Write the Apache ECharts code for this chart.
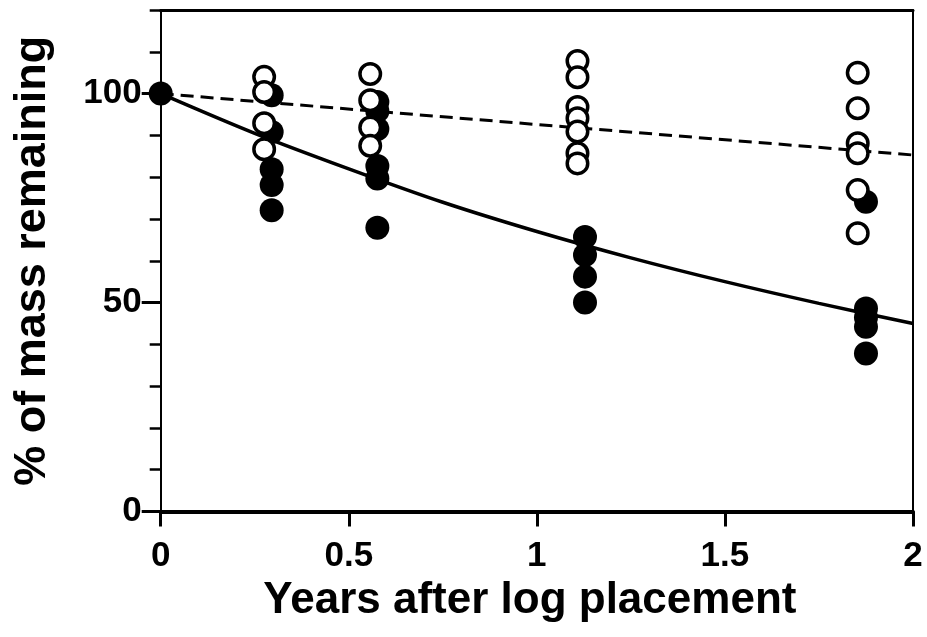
<!DOCTYPE html>
<html><head><meta charset="utf-8">
<script src="https://cdn.jsdelivr.net/npm/echarts@6/dist/echarts.min.js"></script>
<style>html,body{margin:0;padding:0;background:#fff}#c{width:927px;height:637px}</style>
</head><body><div id="c"></div>
<script>
// Tick labels
const xTickValues = [0, 0.5, 1, 1.5, 2];
const yLabelValues = [0, 50, 100];
const yMajorTicks = [0, 50, 100];

// Open circles (years, % mass remaining)
const openPoints = [
  [0.275, 104.0], [0.275, 100.4], [0.275, 92.9], [0.275, 86.7],
  [0.557, 104.7], [0.557, 98.4], [0.557, 91.9], [0.557, 87.5],
  [1.108, 107.8], [1.108, 103.9], [1.108, 96.8], [1.108, 94.1], [1.108, 90.9], [1.108, 85.7], [1.108, 83.3],
  [1.853, 105.0], [1.853, 96.5], [1.853, 88.1], [1.853, 85.7], [1.853, 76.9], [1.853, 66.6]
];

// Filled circles
const filledPoints = [
  [0, 100],
  [0.295, 99.6], [0.295, 90.8], [0.295, 81.9], [0.295, 78.1], [0.295, 72.1],
  [0.576, 98.0], [0.576, 95.8], [0.576, 91.5], [0.576, 82.7], [0.576, 79.7], [0.576, 67.9],
  [1.128, 65.7], [1.128, 61.4], [1.128, 56.2], [1.128, 50.0],
  [1.875, 74.1], [1.875, 48.6], [1.875, 46.4], [1.875, 44.2], [1.875, 37.8]
];

// Fitted curves
const solidYears = [0, 0.25, 0.5, 0.75, 1, 1.25, 1.5, 1.75, 2];
const solidValues = [100, 90.5, 82, 74, 67, 60.7, 55, 49.8, 45];
const dashedYears = [0, 1, 2];
const dashedValues = [100, 92.6, 85.3];

const FONT = '"Liberation Sans", Arial, Helvetica, sans-serif';
const chart = echarts.init(document.getElementById('c'), null, {renderer: 'canvas'});

chart.setOption({
  backgroundColor: '#fff',
  animation: false,
  grid: {left: 160.7, right: 14, top: 10, bottom: 125.5, containLabel: false},
  xAxis: [{
    type: 'value', min: 0, max: 2, interval: 0.5, position: 'bottom',
    axisLine: {show: true, onZero: false, lineStyle: {color: '#000', width: 4}},
    axisTick: {show: true, length: 15, lineStyle: {color: '#000', width: 3}, customValues: xTickValues},
    axisLabel: {show: true, color: '#000', fontSize: 35, fontWeight: 'bold', fontFamily: FONT, margin: 27, customValues: xTickValues},
    splitLine: {show: false},
    name: 'Years after log placement', nameLocation: 'middle', nameGap: 55,
    nameTextStyle: {color: '#000', fontSize: 44, fontWeight: 'bold', fontFamily: FONT, padding: [0, 14, 0, 0]}
  }, {
    type: 'value', min: 0, max: 2, position: 'top',
    axisLine: {show: true, onZero: false, lineStyle: {color: '#000', width: 3}},
    axisTick: {show: false}, axisLabel: {show: false}, splitLine: {show: false}
  }],
  yAxis: [{
    type: 'value', min: 0, max: 120, interval: 10, position: 'left',
    axisLine: {show: true, onZero: false, lineStyle: {color: '#000', width: 2}},
    axisTick: {show: true, length: 11, lineStyle: {color: '#000', width: 2.5}},
    axisLabel: {show: true, color: '#000', fontSize: 35, fontWeight: 'bold', fontFamily: FONT, margin: 19, customValues: yLabelValues},
    splitLine: {show: false},
    name: '% of mass remaining', nameLocation: 'middle', nameGap: 106,
    nameTextStyle: {color: '#000', fontSize: 45, fontWeight: 'bold', fontFamily: FONT}
  }, {
    type: 'value', min: 0, max: 120, position: 'left',
    axisLine: {show: false},
    axisTick: {show: true, length: 19, lineStyle: {color: '#000', width: 3}, customValues: yMajorTicks},
    axisLabel: {show: false}, splitLine: {show: false}
  }, {
    type: 'value', min: 0, max: 120, position: 'right',
    axisLine: {show: true, onZero: false, lineStyle: {color: '#000', width: 2}},
    axisTick: {show: false}, axisLabel: {show: false}, splitLine: {show: false}
  }],
  series: [{
    type: 'line', xAxisIndex: 0, yAxisIndex: 0, z: 2,
    data: dashedYears.map((t, i) => [t, dashedValues[i]]),
    showSymbol: false, symbol: 'none',
    lineStyle: {color: '#000', width: 3, type: [13, 7]}
  }, {
    type: 'line', xAxisIndex: 0, yAxisIndex: 0, z: 2,
    data: solidYears.map((t, i) => [t, solidValues[i]]),
    smooth: 0.3, showSymbol: false, symbol: 'none',
    lineStyle: {color: '#000', width: 3.5}
  }, {
    type: 'scatter', xAxisIndex: 0, yAxisIndex: 0, z: 3,
    data: filledPoints, symbol: 'circle', symbolSize: 24,
    itemStyle: {color: '#000', opacity: 1}
  }, {
    type: 'scatter', xAxisIndex: 0, yAxisIndex: 0, z: 4,
    data: openPoints, symbol: 'circle', symbolSize: 20.5,
    itemStyle: {color: '#fff', borderColor: '#000', borderWidth: 3.5, opacity: 1}
  }]
});
</script>
</body></html>
